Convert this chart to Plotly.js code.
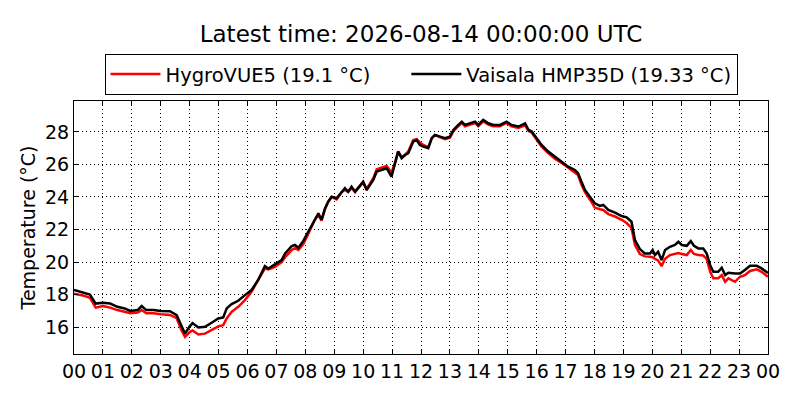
<!DOCTYPE html>
<html>
<head>
<meta charset="utf-8">
<script src="https://cdn.plot.ly/plotly-3.0.1.min.js"></script>
<style>
  html, body { margin: 0; padding: 0; background: #fff; }
  #plot { width: 800px; height: 400px; }
</style>
</head>
<body>
<div id="plot"></div>
<script>
// hours since 2026-08-13 00:00 UTC
const hours = [
  0.00, 0.30, 0.55, 0.75, 1.00, 1.25, 1.50, 1.75, 1.95, 2.20, 2.34, 2.50, 2.75, 3.00, 3.32, 3.55, 3.72, 3.84,
  4.00, 4.10, 4.30, 4.53, 4.76, 4.99, 5.16, 5.28, 5.45, 5.68, 5.91, 6.14, 6.37, 6.60, 6.72, 6.95, 7.18, 7.30,
  7.53, 7.64, 7.76, 7.93, 8.05, 8.16, 8.33, 8.45, 8.56, 8.68, 8.79, 8.91, 9.08, 9.26, 9.37, 9.48, 9.60, 9.72,
  9.89, 10.00, 10.12, 10.24, 10.35, 10.47, 10.64, 10.81, 10.98, 11.10, 11.21, 11.33, 11.45, 11.56, 11.73, 11.85,
  11.96, 12.08, 12.25, 12.37, 12.48, 12.66, 12.83, 13.00, 13.12, 13.29, 13.41, 13.52, 13.69, 13.87, 13.98, 14.15,
  14.33, 14.50, 14.73, 14.96, 15.13, 15.37, 15.60, 15.72, 15.83, 16.00, 16.17, 16.40, 16.63, 16.86, 17.09, 17.32,
  17.43, 17.55, 17.67, 17.84, 18.01, 18.19, 18.30, 18.48, 18.71, 18.94, 19.11, 19.28, 19.40, 19.57, 19.74, 19.92,
  20.01, 20.09, 20.20, 20.32, 20.44, 20.61, 20.78, 20.90, 21.02, 21.19, 21.33, 21.44, 21.59, 21.76, 21.88, 22.00,
  22.11, 22.28, 22.40, 22.52, 22.63, 22.86, 23.03, 23.20, 23.38, 23.61, 23.78, 24.00
];

const hmp35d = [
  18.28, 18.15, 18.00, 17.45, 17.50, 17.45, 17.25, 17.15, 17.00, 17.05, 17.30, 17.05, 17.05, 17.00, 16.98, 16.74, 16.05, 15.60,
  16.05, 16.25, 15.98, 16.02, 16.27, 16.53, 16.60, 17.15, 17.42, 17.62, 17.97, 18.28, 18.90, 19.75, 19.60, 19.86, 20.12, 20.53,
  20.98, 21.05, 20.88, 21.30, 21.70, 22.10, 22.69, 23.00, 22.60, 23.30, 23.71, 24.02, 23.92, 24.33, 24.54, 24.33, 24.63, 24.33,
  24.74, 24.94, 24.43, 24.74, 25.05, 25.56, 25.66, 25.77, 25.25, 26.07, 26.79, 26.38, 26.58, 26.69, 27.40, 27.50,
  27.20, 27.10, 27.00, 27.61, 27.82, 27.71, 27.61, 27.71, 28.12, 28.43, 28.63, 28.43, 28.53, 28.63, 28.43, 28.74,
  28.53, 28.43, 28.43, 28.63, 28.43, 28.33, 28.53, 28.12, 28.02, 27.61, 27.20, 26.79, 26.48, 26.17, 25.86, 25.66,
  25.46, 24.94, 24.43, 24.02, 23.61, 23.45, 23.51, 23.20, 23.04, 22.83, 22.75, 22.48, 21.35, 20.80, 20.53, 20.53,
  20.74, 20.43, 20.63, 20.12, 20.74, 20.94, 21.05, 21.25, 21.05, 21.00, 21.29, 21.00, 20.84, 20.84, 20.53, 19.81,
  19.40, 19.40, 19.65, 19.20, 19.34, 19.30, 19.30, 19.51, 19.77, 19.77, 19.61, 19.33
];

const hygrovue5 = [
  18.05, 17.95, 17.80, 17.20, 17.30, 17.20, 17.05, 16.95, 16.85, 16.90, 17.05, 16.85, 16.85, 16.80, 16.75, 16.55, 15.80, 15.40,
  15.70, 15.80, 15.55, 15.60, 15.82, 16.05, 16.12, 16.53, 16.94, 17.25, 17.66, 18.17, 18.90, 19.60, 19.55, 19.70, 20.00, 20.30,
  20.74, 20.85, 20.74, 21.10, 21.55, 21.95, 22.60, 22.90, 22.55, 23.25, 23.70, 24.00, 23.85, 24.30, 24.45, 24.30, 24.55, 24.30,
  24.70, 24.90, 24.50, 24.80, 25.15, 25.70, 25.80, 25.90, 25.50, 26.10, 26.80, 26.45, 26.60, 26.80, 27.50, 27.55,
  27.35, 27.20, 27.05, 27.60, 27.80, 27.65, 27.55, 27.65, 28.05, 28.35, 28.55, 28.35, 28.45, 28.55, 28.35, 28.65,
  28.45, 28.35, 28.35, 28.55, 28.35, 28.25, 28.40, 28.05, 27.95, 27.50, 27.10, 26.70, 26.35, 26.10, 25.80, 25.55,
  25.35, 24.75, 24.30, 23.85, 23.35, 23.25, 23.20, 22.95, 22.80, 22.60, 22.40, 22.10, 21.05, 20.50, 20.35, 20.33,
  20.30, 20.20, 20.10, 19.75, 20.20, 20.43, 20.50, 20.55, 20.50, 20.43, 20.74, 20.50, 20.43, 20.40, 20.20, 19.40,
  19.00, 19.00, 19.20, 18.79, 19.00, 18.79, 19.10, 19.20, 19.45, 19.55, 19.40, 19.10
];

const seriesNames = ['HygroVUE5 (19.1 °C)', 'Vaisala HMP35D (19.33 °C)'];
const titleText = 'Latest time: 2026-08-14 00:00:00 UTC';

const startMs = Date.UTC(2026, 7, 13, 0, 0, 0);
function toTime(h) {
    const d = new Date(startMs + Math.round(h * 3600000));
    return d.toISOString().replace('T', ' ').slice(0, 19);
}
const times = hours.map(toTime);

const font = 'DejaVu Sans, sans-serif';
// a bit of room between the two legend entries, like the original
const legendGap = '\u00a0'.repeat(5);

const trace1 = {
    x: times,
    y: hygrovue5,
    name: seriesNames[0] + legendGap,
    type: 'scatter',
    mode: 'lines',
    line: { color: '#ff0000', width: 2.5 }
};

const trace2 = {
    x: times,
    y: hmp35d,
    name: seriesNames[1],
    type: 'scatter',
    mode: 'lines',
    line: { color: '#000000', width: 2.5 }
};

const axisCommon = {
    showline: true,
    mirror: 'ticks',
    linecolor: '#000',
    linewidth: 1,
    ticks: 'inside',
    ticklen: 4,
    tickcolor: '#000',
    showgrid: true,
    gridcolor: '#000',
    gridwidth: 1,
    griddash: '1px,3px',
    zeroline: false,
    tickfont: { family: font, size: 19, color: '#000' }
};

const layout = {
    width: 800,
    height: 400,
    margin: { l: 74, r: 32, t: 101, b: 46 },
    paper_bgcolor: '#fff',
    plot_bgcolor: '#fff',
    font: { family: font, color: '#000' },
    title: {
        text: titleText,
        font: { family: font, size: 23, color: '#000' },
        x: 0.5, xref: 'paper', xanchor: 'center',
        y: 0.915, yref: 'container', yanchor: 'middle'
    },
    showlegend: true,
    legend: {
        orientation: 'h',
        x: 0.5, xanchor: 'center',
        y: 1.186, yanchor: 'top',
        bordercolor: '#000',
        borderwidth: 1,
        itemwidth: 50,
        font: { family: font, size: 19.5, color: '#000' },
        traceorder: 'normal'
    },
    xaxis: Object.assign({}, axisCommon, {
        type: 'date',
        range: [toTime(0), toTime(24)],
        tick0: toTime(0),
        dtick: 3600000,
        tickformat: '%H'
    }),
    yaxis: Object.assign({}, axisCommon, {
        range: [14.35, 29.9],
        tick0: 16,
        dtick: 2,
        title: { text: 'Temperature (°C)', font: { family: font, size: 19, color: '#000' }, standoff: 4 }
    })
};

Plotly.newPlot('plot', [trace1, trace2], layout, { displayModeBar: false, staticPlot: true });
</script>
</body>
</html>
